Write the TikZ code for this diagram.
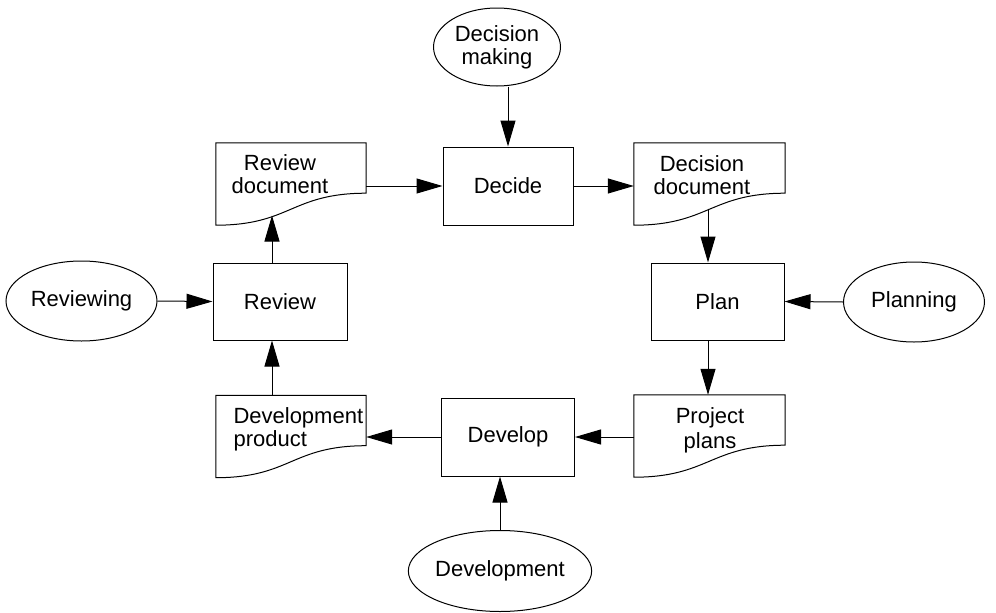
\documentclass[tikz,border=0pt]{standalone}
\usepackage{fontspec}
\setmainfont{Liberation Sans}
\usetikzlibrary{shapes.geometric,arrows.meta,calc}

\tikzset{
  lbl/.style={font=\fontsize{22}{23}\selectfont, align=center},
  outline/.style={line width=1pt},
  stepbox/.style={lbl, draw, outline, rectangle, inner sep=0pt},
  actor/.style={lbl, draw, outline, ellipse, inner sep=0pt},
  docbox/.style={rectangle, inner sep=0pt, minimum width=150pt, minimum height=82pt},
  arr/.style={outline, -{Triangle[length=26pt,width=15pt]}},
}

% document symbol: flat top, straight sides, S-shaped lower edge
\newcommand\docpath[1]{%
  \draw[outline] (#1.north west) -- (#1.north east) -- ([yshift=32pt]#1.south east)
    .. controls +(-75,0) and +(75,0) .. (#1.south west) -- cycle;}

\begin{document}
\begin{tikzpicture}[x=1pt,y=-1pt]
\useasboundingbox (0,0) rectangle (996,613);

% activities
\node[stepbox, minimum width=130pt, minimum height=78pt] (decide) at (508,186) {Decide};
\node[stepbox, minimum width=133pt, minimum height=77pt] (plan) at (717.5,301.5) {Plan};
\node[stepbox, minimum width=133pt, minimum height=78pt] (develop) at (508,437) {Develop};
\node[stepbox, minimum width=134pt, minimum height=77pt] (review) at (280,301.5) {Review};

% roles
\node[actor, minimum width=127pt, minimum height=78pt] (dm) at (497,47) {Decision\\making};
\node[actor, minimum width=141pt, minimum height=80pt] (planning) at (914,302) {Planning};
\node[actor, minimum width=150pt, minimum height=81pt] (devel) at (500,571) {Development};
\node[actor, minimum width=151pt, minimum height=80pt] (reviewing) at (81.5,301) {Reviewing};

% documents
\node[docbox] (rdoc) at (291,184) {};
\node[docbox, minimum width=151pt] (ddoc) at (709.5,184) {};
\node[docbox, minimum width=151pt] (pdoc) at (709.5,436) {};
\node[docbox] (dpdoc) at (291,436.5) {};
\docpath{rdoc}
\docpath{ddoc}
\docpath{pdoc}
\docpath{dpdoc}
\node[lbl] (rdoct) at (280,174) {Review\\document};
\node[lbl] (ddoct) at (702,175.5) {Decision\\document};
\node[lbl, font=\fontsize{22}{25}\selectfont] (pdoct) at (710,430) {Project\\plans};
\node[lbl, align=left, anchor=west] (dpdoct) at (230,429) {Development\\product};

% points on the lower edges where connectors meet
\coordinate (rdocin) at (272,215.5);
\coordinate (ddocout) at (708,208.5);

% flow
\draw[arr] (rdoc.east |- decide) -- (decide.west);
\draw[arr] (decide.east) -- (ddoc.west |- decide);
\draw[arr] (dm.south -| decide) -- (decide.north);
\draw[arr] (ddocout) -- (ddocout |- plan.north);
\draw[arr] (planning.west) -- (plan.east);
\draw[arr] (plan.south -| ddocout) -- (ddocout |- pdoc.north);
\draw[arr] (pdoc.west |- develop) -- (develop.east);
\draw[arr] (devel.north) -- (devel.north |- develop.south);
\draw[arr] (develop.west) -- (dpdoc.east |- develop);
\draw[arr] (dpdoc.north -| rdocin) -- (rdocin |- review.south);
\draw[arr] (rdocin |- review.north) -- (rdocin);
\draw[arr] (reviewing.east) -- (review.west);
\end{tikzpicture}
\end{document}
